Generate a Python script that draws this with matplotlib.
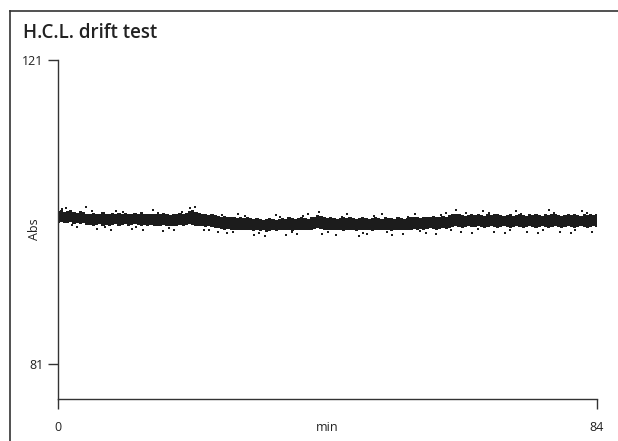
import matplotlib
matplotlib.use("Agg")
import matplotlib.pyplot as plt
from matplotlib.lines import Line2D
import numpy as np

plt.rcParams['font.family'] = ['Open Sans', 'DejaVu Sans']

# time axis, one reading block every half minute
t = np.arange(0, 84.01, 0.5)

# upper / lower edge of the dense band of readings (Abs)
band_hi = [
    101.1, 101.2, 101.0, 101.1, 101.3, 101.0, 100.9, 101.1, 101.0, 100.8,
    100.8, 100.9, 100.7, 100.8, 101.0, 100.8, 100.7, 100.9, 100.8, 100.9,
    100.8, 100.9, 100.8, 100.7, 100.9, 100.8, 101.0, 100.8, 100.7, 100.8,
    100.7, 100.8, 100.7, 100.9, 100.7, 100.6, 100.8, 100.7, 100.9, 100.8,
    100.9, 101.1, 101.2, 101.0, 100.9, 100.8, 100.7, 100.6, 100.7, 100.6,
    100.5, 100.4, 100.5, 100.3, 100.4, 100.3, 100.2, 100.3, 100.2, 100.3,
    100.2, 100.1, 100.2, 100.1, 100.0, 100.1, 100.2, 100.1, 100.0, 100.1,
    100.2, 100.1, 100.3, 100.2, 100.1, 100.2, 100.3, 100.2, 100.1, 100.3,
    100.4, 100.6, 100.5, 100.3, 100.2, 100.3, 100.2, 100.1, 100.2, 100.3,
    100.2, 100.3, 100.2, 100.1, 100.2, 100.3, 100.2, 100.1, 100.2, 100.3,
    100.2, 100.1, 100.3, 100.2, 100.2, 100.1, 100.3, 100.2, 100.1, 100.2,
    100.3, 100.4, 100.3, 100.2, 100.4, 100.3, 100.4, 100.5, 100.3, 100.4,
    100.5, 100.4, 100.6, 100.7, 100.8, 100.7, 100.6, 100.5, 100.6, 100.7,
    100.6, 100.7, 100.6, 100.5, 100.7, 100.6, 100.7, 100.8, 100.6, 100.5,
    100.6, 100.7, 100.5, 100.6, 100.7, 100.6, 100.5, 100.7, 100.6, 100.7,
    100.6, 100.5, 100.7, 100.6, 100.7, 100.8, 100.6, 100.5, 100.6, 100.7,
    100.6, 100.7, 100.6, 100.5, 100.7, 100.6, 100.7, 100.6, 100.7,
]
band_lo = [
    99.6, 99.7, 99.5, 99.6, 99.7, 99.4, 99.5, 99.4, 99.5, 99.3,
    99.3, 99.2, 99.3, 99.4, 99.2, 99.3, 99.2, 99.3, 99.4, 99.2,
    99.3, 99.4, 99.2, 99.3, 99.4, 99.3, 99.2, 99.3, 99.2, 99.3,
    99.2, 99.1, 99.2, 99.3, 99.1, 99.2, 99.1, 99.2, 99.3, 99.2,
    99.3, 99.4, 99.3, 99.2, 99.1, 99.1, 99.0, 99.1, 99.0, 98.9,
    98.9, 98.8, 98.7, 98.8, 98.7, 98.6, 98.7, 98.6, 98.7, 98.6,
    98.6, 98.5, 98.6, 98.5, 98.6, 98.4, 98.5, 98.6, 98.5, 98.6,
    98.6, 98.7, 98.6, 98.5, 98.6, 98.7, 98.6, 98.7, 98.6, 98.7,
    98.8, 98.9, 98.8, 98.7, 98.6, 98.7, 98.6, 98.7, 98.6, 98.5,
    98.6, 98.7, 98.6, 98.5, 98.7, 98.6, 98.7, 98.6, 98.5, 98.6,
    98.7, 98.6, 98.7, 98.6, 98.5, 98.7, 98.6, 98.7, 98.6, 98.7,
    98.7, 98.8, 98.7, 98.8, 98.7, 98.8, 98.9, 98.8, 98.7, 98.8,
    98.9, 98.8, 98.9, 99.0, 99.1, 99.0, 98.9, 99.0, 99.1, 99.0,
    99.0, 99.1, 99.0, 98.9, 99.0, 99.1, 99.0, 98.9, 99.0, 99.1,
    99.0, 98.9, 99.0, 99.1, 99.0, 98.9, 99.0, 99.1, 99.0, 98.9,
    99.0, 99.1, 99.0, 98.9, 99.0, 99.1, 99.0, 98.9, 99.0, 99.1,
    99.0, 98.9, 99.0, 99.1, 99.0, 98.9, 99.0, 99.1, 99.0,
]

# stray readings outside the band
stray_t = [1.2, 3.0, 4.4, 6.1, 8.3, 9.0, 11.5, 13.2, 14.8, 16.4,
           18.1, 20.5, 21.4, 22.7, 24.9, 26.3, 28.0, 30.6, 32.2, 33.9,
           35.5, 37.3, 39.0, 40.6, 41.2, 43.4, 45.1, 46.9, 48.2, 50.5,
           52.0, 53.8, 55.6, 57.3, 58.9, 60.4, 62.1, 62.8, 64.5, 66.2,
           68.0, 69.7, 71.3, 73.1, 74.8, 76.5, 78.2, 79.9, 81.6, 83.2,
           0.7, 2.2, 5.3, 7.4, 10.2, 12.1, 15.6, 17.3, 19.4, 23.5,
           25.6, 27.2, 29.1, 31.4, 34.6, 36.4, 38.2, 42.1, 44.3, 47.6,
           49.3, 51.2, 54.5, 56.4, 59.7, 61.3, 63.6, 65.4, 67.1, 70.5,
           72.2, 75.6, 77.3, 80.5, 82.4]
stray_v = [101.5, 99.0, 101.6, 98.8, 98.7, 101.1, 98.8, 98.6, 101.2, 98.5,
           98.7, 101.5, 101.7, 98.6, 98.4, 98.2, 100.8, 98.0, 97.9, 100.6,
           98.0, 98.1, 100.7, 101.0, 98.1, 98.0, 100.7, 97.9, 98.1, 100.7,
           98.0, 98.1, 100.8, 98.2, 98.1, 100.9, 101.2, 98.4, 98.3, 101.1,
           98.4, 98.3, 101.1, 98.4, 98.3, 101.2, 98.4, 98.3, 101.1, 98.4,
           101.4, 99.3, 101.1, 99.0, 101.0, 99.0, 100.9, 98.9, 101.0, 98.7,
           100.6, 98.4, 100.5, 98.3, 100.3, 98.4, 100.5, 98.4, 100.4, 98.3,
           100.5, 98.4, 100.4, 98.5, 100.6, 98.7, 100.9, 98.8, 100.9, 98.7,
           100.8, 98.7, 100.9, 98.7, 100.9]

x_ticks = [0, 84]
y_ticks = [81, 121]

W, H = 618, 441
fig = plt.figure(figsize=(W / 100, H / 100), dpi=100)
ax = fig.add_axes([58 / W, 1 - 399 / H, 539 / W, 339 / H])

ax.fill_between(t, band_lo, band_hi, step='mid', color='#1c1c1c', lw=0)
ax.plot(stray_t, stray_v, 's', color='#1c1c1c', ms=1.8, mew=0)

ax.set_xlim(0, 84)
ax.set_ylim(76.4, 121)
for s in ['top', 'right']:
    ax.spines[s].set_visible(False)
for s in ['left', 'bottom']:
    ax.spines[s].set_color('#333333')
    ax.spines[s].set_linewidth(1.0)

ax.set_xticks(x_ticks)
ax.set_yticks(y_ticks)
ax.tick_params(axis='both', direction='out', length=7.5, width=1.0,
               color='#333333', labelsize=9, labelcolor='#222222', pad=3)
ax.tick_params(axis='x', pad=8)

ax.text(0.5, -0.083, 'min', transform=ax.transAxes, ha='center', va='center',
        fontsize=9, color='#222222')
ax.text(-0.043, 0.5, 'Abs', transform=ax.transAxes, ha='center', va='center',
        rotation=90, fontsize=9, color='#222222')

fig.text(23 / W, 1 - 33 / H, 'H.C.L. drift test', ha='left', va='center',
         fontsize=13.5, fontweight='semibold', color='#222222')

# frame: left and top only
fig.add_artist(Line2D([10 / W, 10 / W], [0, 1 - 11 / H], color='#333333', lw=1.2))
fig.add_artist(Line2D([10 / W, 1], [1 - 11 / H, 1 - 11 / H], color='#333333', lw=1.2))

fig.savefig('out.png', dpi=100)
